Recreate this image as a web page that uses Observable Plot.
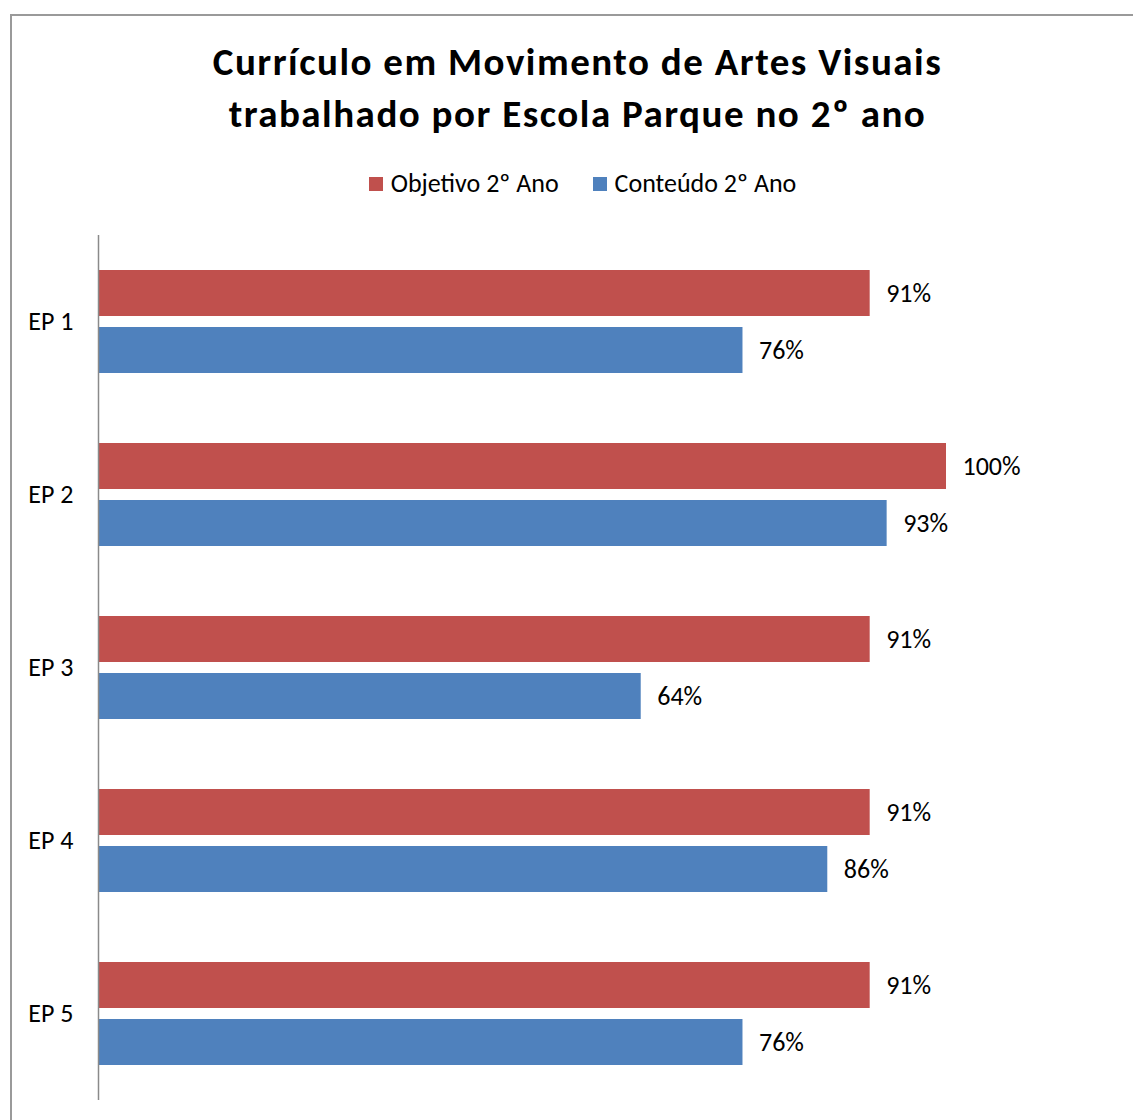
<!DOCTYPE html>
<html>
<head>
<meta charset="utf-8">
<script src="https://cdn.jsdelivr.net/npm/d3@7"></script>
<script src="https://cdn.jsdelivr.net/npm/@observablehq/plot@0.6"></script>
<style>
  html, body { margin: 0; padding: 0; background: #fff; }
  body { width: 1133px; height: 1120px; position: relative; overflow: hidden; font-family: Carlito, Lato, "Open Sans", sans-serif; }
  #frame { position: absolute; left: 10px; top: 14px; width: 1200px; height: 1200px; border-top: 2px solid #9a9a9a; border-left: 2px solid #9a9a9a; box-sizing: border-box; }
  #title { position: absolute; left: 10px; width: 1135px; top: 36px; text-align: center; font-weight: bold; font-size: 39px; letter-spacing: 1.5px; line-height: 52px; color: #000; }
  #legend { position: absolute; left: 10px; width: 1145px; top: 167px; text-align: center; font-size: 26px; line-height: 32px; color: #000; white-space: nowrap; }
  .item { display: inline-block; margin: 0 17px; }
  .sw { display: inline-block; width: 14px; height: 14px; margin-right: 8px; vertical-align: 1px; }
  #chart { position: absolute; left: 0; top: 235px; }
</style>
</head>
<body>
<div id="frame"></div>
<div id="title">Currículo em Movimento de Artes Visuais<br>trabalhado por Escola Parque no 2º ano</div>
<div id="legend"></div>
<div id="chart"></div>
<script>
const schools = ["EP 1", "EP 2", "EP 3", "EP 4", "EP 5"];
const seriesNames = ["Objetivo 2º Ano", "Conteúdo 2º Ano"];
const seriesColors = ["#C0504D", "#4F81BD"];
const objetivo = [91, 100, 91, 91, 91];
const conteudo = [76, 93, 64, 86, 76];

const data = [];
schools.forEach((s, i) => {
  data.push({school: s, series: seriesNames[0], value: objetivo[i]});
  data.push({school: s, series: seriesNames[1], value: conteudo[i]});
});

const legend = document.getElementById("legend");
seriesNames.forEach((n, i) => {
  const it = document.createElement("span");
  it.className = "item";
  const sw = document.createElement("span");
  sw.className = "sw";
  sw.style.background = seriesColors[i];
  it.appendChild(sw);
  it.appendChild(document.createTextNode(n));
  legend.appendChild(it);
});

const chart = Plot.plot({
  width: 1133,
  height: 865,
  marginLeft: 98,
  marginRight: 187,
  marginTop: 0,
  marginBottom: 0,
  style: {fontFamily: "Carlito, Lato, 'Open Sans', sans-serif", background: "transparent", overflow: "visible"},
  x: {domain: [0, 100], axis: null},
  y: {domain: seriesNames, paddingInner: 0.2, paddingOuter: 0.6, axis: null},
  fy: {domain: schools, padding: 0, label: null},
  color: {domain: seriesNames, range: seriesColors},
  marks: [
    Plot.barX(data, {x: "value", y: "series", fy: "school", fill: "series"}),
    Plot.ruleX([0], {stroke: "#8a8a8a", strokeWidth: 1.5}),
    Plot.text(data, {x: "value", y: "series", fy: "school", text: d => d.value + "%", dx: 16, textAnchor: "start", fontSize: 26, fill: "#000"}),
    Plot.axisFy({anchor: "left", tickSize: 0, tickPadding: 25, fontSize: 26, label: null, color: "#000"})
  ]
});
document.getElementById("chart").appendChild(chart);
</script>
</body>
</html>
